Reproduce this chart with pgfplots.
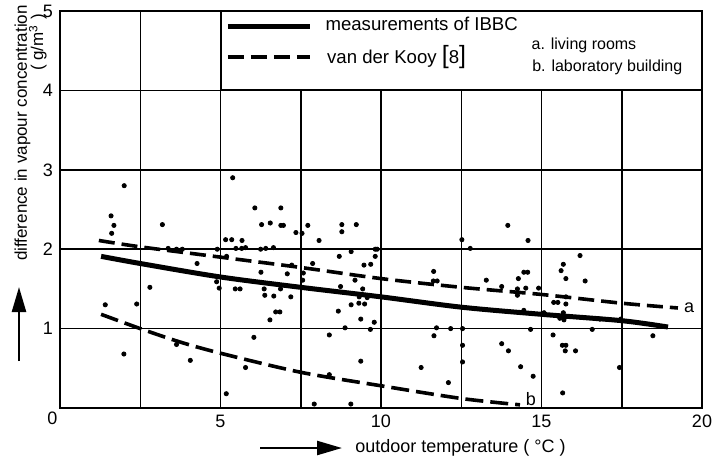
\documentclass[border=0pt]{standalone}
\usepackage{fontspec}
\setmainfont{Liberation Sans}
\usepackage{pgfplots}
\pgfplotsset{compat=1.18}
\usetikzlibrary{arrows.meta}

\pgfplotstableread{
x y
2.00 2.80
1.59 2.42
1.68 2.30
1.61 2.20
3.19 2.31
5.38 2.90
6.07 2.52
6.28 2.31
6.55 2.33
5.16 2.12
5.35 2.12
5.67 2.11
5.48 2.01
5.66 2.01
5.78 2.02
6.25 2.00
6.41 2.01
6.65 2.02
4.90 2.00
3.37 2.01
3.63 2.00
3.81 2.00
5.19 1.91
4.27 1.82
6.26 1.71
6.88 2.52
6.88 2.30
6.96 2.30
7.35 2.21
7.54 2.20
7.72 2.30
8.07 2.11
8.78 2.31
8.78 2.22
9.23 2.31
9.07 1.97
8.70 1.91
9.82 2.00
9.88 2.00
9.82 1.91
9.47 1.80
9.68 1.81
7.87 1.82
7.22 1.80
7.08 1.69
7.58 1.70
12.52 2.12
12.78 2.01
11.64 1.72
13.95 2.30
14.58 2.11
16.20 1.92
15.68 1.81
15.61 1.73
14.45 1.71
14.57 1.71
14.28 1.63
15.76 1.63
4.88 1.59
4.96 1.51
2.80 1.52
5.46 1.50
5.61 1.50
6.36 1.50
6.38 1.42
6.66 1.41
6.54 1.11
1.41 1.30
2.39 1.31
6.04 0.89
1.99 0.68
3.63 0.80
4.06 0.60
5.78 0.51
5.18 0.18
6.72 1.21
6.85 1.21
7.19 1.40
6.87 1.50
7.56 1.61
9.19 1.61
8.74 1.53
9.07 1.30
9.31 1.32
8.67 1.22
8.88 1.01
8.39 0.92
8.39 0.42
7.92 0.05
9.06 0.05
9.43 1.50
9.32 1.40
9.57 1.39
9.49 1.31
9.37 1.12
9.79 1.08
9.67 0.99
9.37 0.59
11.73 1.01
12.17 1.00
12.54 1.00
11.65 0.91
12.54 0.79
12.54 0.58
11.25 0.51
12.10 0.32
11.63 1.60
11.75 1.60
13.28 1.61
13.76 1.53
14.25 1.50
14.25 1.42
14.51 1.51
14.91 1.51
14.45 1.23
14.66 0.99
13.76 0.81
13.97 0.72
14.35 0.52
14.74 0.40
15.08 1.20
15.36 0.92
15.38 1.33
15.51 1.33
15.76 1.40
15.76 1.31
15.68 1.20
15.57 1.13
15.70 1.11
15.65 0.79
15.76 0.79
15.74 0.72
16.06 0.72
15.66 0.19
16.36 1.60
16.58 0.99
16.82 1.12
17.47 1.12
17.43 0.51
18.47 0.91
}\points

\pgfplotstableread{
x y
1.28 1.91
2.5 1.82
5 1.65
7.5 1.52
10 1.40
12.5 1.27
15 1.18
17.5 1.10
18.94 1.02
}\ibbc

\pgfplotstableread{
x y
1.21 2.11
2.5 2.03
5 1.90
7.5 1.77
10 1.63
12.5 1.52
15 1.43
17.5 1.32
19.25 1.26
}\kooya

\pgfplotstableread{
x y
1.28 1.18
2.5 1.00
3.75 0.83
5 0.69
7.5 0.45
10 0.28
12.5 0.12
14.33 0.04
}\kooyb

\begin{document}
\begin{tikzpicture}
\begin{axis}[
  scale only axis, width=321pt, height=198.5pt,
  at={(0,0)}, anchor=south west,
  xmin=0, xmax=20, ymin=0, ymax=5,
  xtick={0,2.5,...,20}, xticklabels={,,5,,10,,15,,20},
  ytick={0,1,...,5}, yticklabels={,1,2,3,4,5},
  grid=major, major grid style={black, line width=0.75pt},
  axis line style={black, line width=1.3pt},
  major tick length=0pt,
  tick label style={font=\fontsize{9}{10}\selectfont, black},
  /pgf/number format/assume math mode=true,
  clip=false,
]
\addplot[only marks, mark=*, mark size=1.05pt, black] table {\points};
\addplot[black, line width=2.5pt, smooth] table {\ibbc};
\addplot[black, line width=1.8pt, smooth, dash pattern=on 8pt off 3.5pt] table {\kooya};
\addplot[black, line width=1.8pt, smooth, dash pattern=on 9pt off 3.5pt] table {\kooyb};

\fill[white] (axis cs:5,4) rectangle (axis cs:20,5);
\draw[black, line width=1pt] (axis cs:5,4) rectangle (axis cs:20,5);
\addplot[black, line width=2.5pt, forget plot] coordinates {(5.23,4.80) (7.79,4.80)};
\addplot[black, line width=1.8pt, forget plot, dash pattern=on 8pt off 3.5pt] coordinates {(5.23,4.42) (7.79,4.42)};
\node[anchor=base west, inner sep=0, font=\fontsize{9.3}{10}\selectfont] at (axis cs:8.26,4.76) {measurements of IBBC};
\node[anchor=base west, inner sep=0, font=\fontsize{9.3}{10}\selectfont] at (axis cs:8.31,4.345) {van der Kooy {\fontsize{12.5}{12.5}\selectfont[}8{\fontsize{12.5}{12.5}\selectfont]}};
\node[anchor=base west, inner sep=0, font=\fontsize{8}{10}\selectfont] at (axis cs:14.68,4.517) {a. living rooms};
\node[anchor=base west, inner sep=0, font=\fontsize{8}{10}\selectfont] at (axis cs:14.70,4.244) {b. laboratory building};

\node[font=\fontsize{9}{10}\selectfont, inner sep=0] at (axis cs:19.6,1.266) {a};
\node[font=\fontsize{9}{10}\selectfont, inner sep=0] at (axis cs:14.67,0.11) {b};
\node[font=\fontsize{9}{10}\selectfont, inner sep=0] at ([xshift=-3.75pt, yshift=-5pt]axis cs:0,0) {0};
\end{axis}

% axis labels
\node[rotate=90, anchor=base, inner sep=0, font=\fontsize{8.5}{10}\selectfont] at (-16.5pt,137.5pt) {difference in vapour concentration};
\node[rotate=90, anchor=base, inner sep=0, font=\fontsize{8.5}{10}\selectfont] at (-8.5pt,182.75pt) {( g/m\textsuperscript{3} )};
\draw[black, line width=1.2pt, -{Triangle[length=12.5pt, width=7pt]}] (-20.5pt,23.5pt) -- (-20.5pt,60.5pt);
\draw[black, line width=1.2pt, -{Triangle[length=12.5pt, width=7pt]}] (100pt,-20pt) -- (141pt,-20pt);
\node[anchor=base west, inner sep=0, font=\fontsize{9}{10}\selectfont] at (147.5pt,-22.35pt) {outdoor temperature ( °C )};

\pgfresetboundingbox
\path (-30pt,-27.5pt) rectangle (329pt,204pt);
\end{tikzpicture}
\end{document}
